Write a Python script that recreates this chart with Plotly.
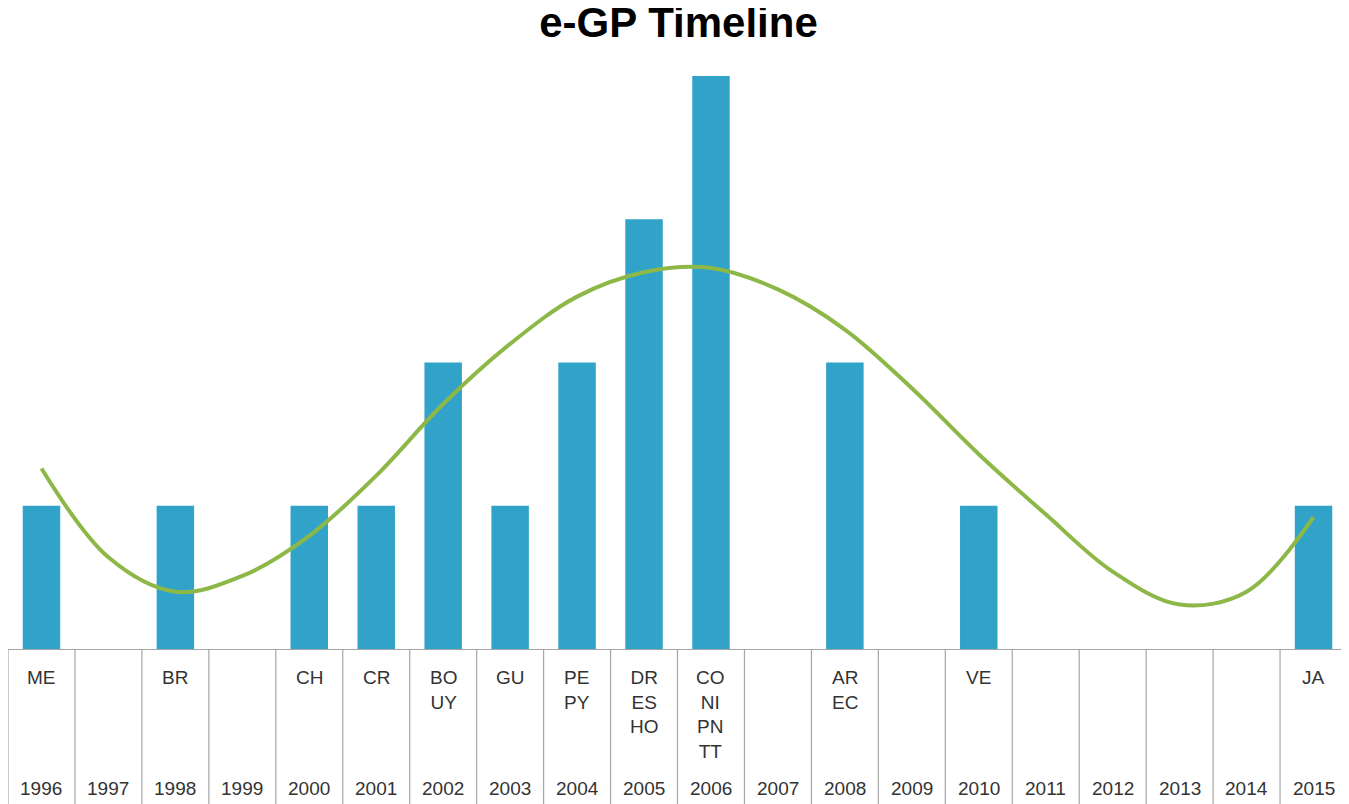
import plotly.graph_objects as go

years = list(range(1996, 2016))
countries = [
    ["ME"], [], ["BR"], [], ["CH"], ["CR"], ["BO", "UY"], ["GU"], ["PE", "PY"],
    ["DR", "ES", "HO"], ["CO", "NI", "PN", "TT"], [], ["AR", "EC"], [], ["VE"],
    [], [], [], [], ["JA"],
]
counts = [len(c) for c in countries]

# trend line values at each year
trend = [1.26, 0.64, 0.40, 0.51, 0.79, 1.21, 1.71, 2.13, 2.46, 2.63,
         2.66, 2.51, 2.23, 1.82, 1.36, 0.94, 0.54, 0.31, 0.40, 0.92]

FONT = "Liberation Sans, Arial, sans-serif"
GRID = "#a6a6a6"

fig = go.Figure()

fig.add_trace(go.Bar(
    x=years,
    y=counts,
    marker=dict(color="#32a3c8", line=dict(width=0)),
    width=0.56,
    showlegend=False,
))

fig.add_trace(go.Scatter(
    x=years,
    y=trend,
    mode="lines",
    line=dict(color="#8db848", width=4, shape="spline", smoothing=1.0),
    showlegend=False,
))

# table below the axis: country codes and years
annotations = []
for yr, codes in zip(years, countries):
    if codes:
        annotations.append(dict(
            x=yr, y=-0.028, xref="x", yref="paper",
            text="<br>".join(codes), showarrow=False,
            yanchor="top", xanchor="center",
            font=dict(family=FONT, size=19, color="#333333"),
        ))
    annotations.append(dict(
        x=yr, y=-0.2426, xref="x", yref="paper",
        text=str(yr), showarrow=False,
        yanchor="middle", xanchor="center",
        font=dict(family=FONT, size=19, color="#333333"),
    ))

shapes = []
for yr in years + [years[-1] + 1]:
    shapes.append(dict(
        type="line", xref="x", yref="paper",
        x0=yr - 0.5, x1=yr - 0.5, y0=0, y1=-0.3,
        line=dict(color=GRID, width=1.2),
    ))

# page body has an 8px margin, so the figure is a bit smaller than the window
fig.update_layout(
    width=1341,
    height=796,
    margin=dict(l=0, r=2, t=68, b=155),
    paper_bgcolor="white",
    plot_bgcolor="white",
    title=dict(
        text="<b>e-GP Timeline</b>",
        x=0.5, xanchor="center",
        y=1, yref="container", yanchor="top",
        pad=dict(t=0),
        font=dict(family=FONT, size=42, color="#000000"),
    ),
    xaxis=dict(
        range=[years[0] - 0.5, years[-1] + 0.5],
        showticklabels=False,
        showgrid=False,
        zeroline=False,
        showline=True,
        linecolor=GRID,
        linewidth=1.2,
        ticks="",
    ),
    yaxis=dict(
        range=[0, 4],
        visible=False,
        showgrid=False,
        zeroline=False,
    ),
    annotations=annotations,
    shapes=shapes,
)

fig.write_html("out.html")
